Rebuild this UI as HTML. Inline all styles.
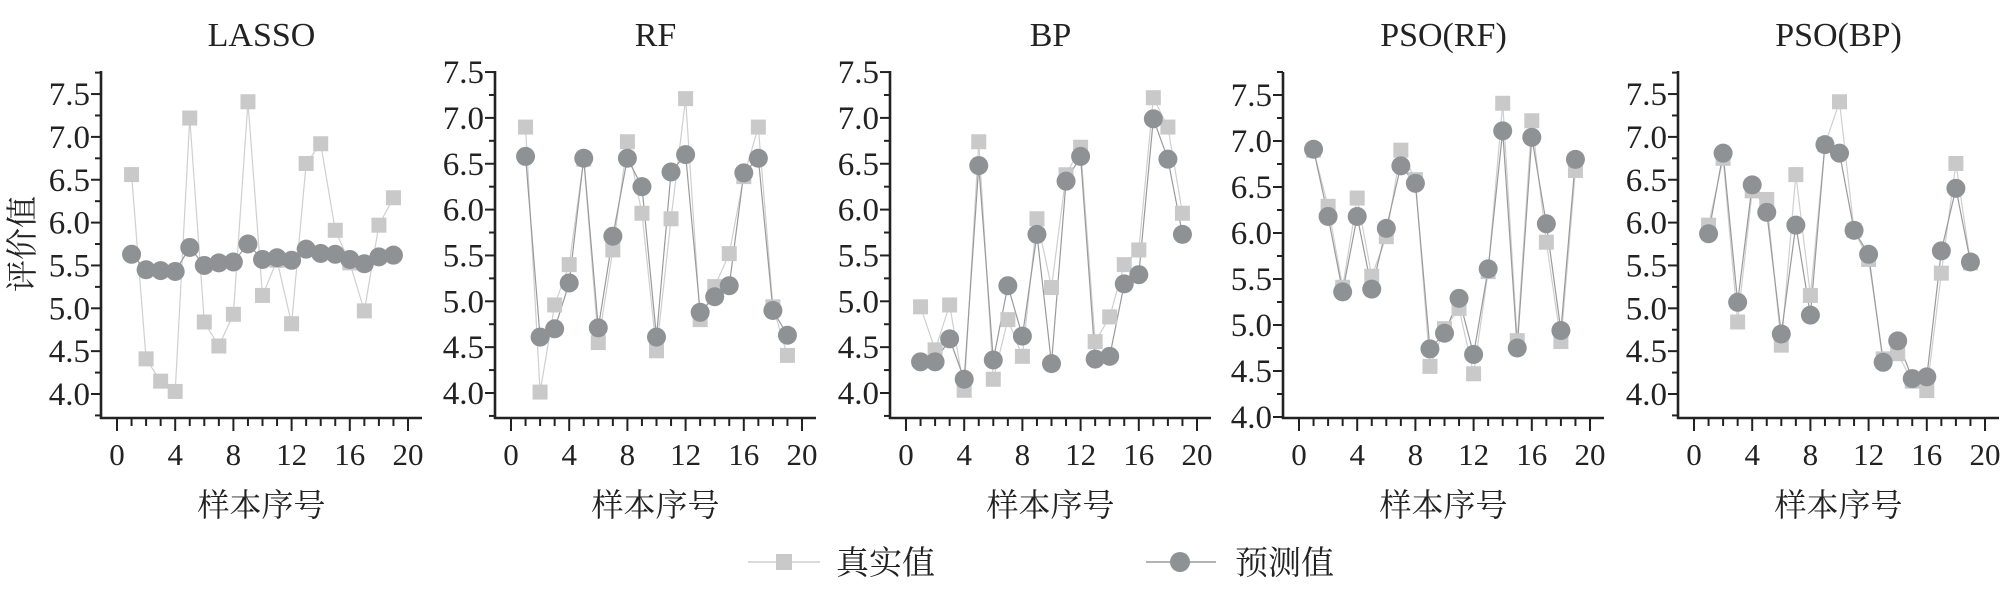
<!DOCTYPE html>
<html><head><meta charset="utf-8"><style>
html,body{margin:0;padding:0;background:#fff;}
svg{display:block;}
text{font-family:"Liberation Serif","Noto Serif CJK SC",serif;fill:#222;}
.cn{font-family:"Liberation Serif","Noto Serif CJK SC","Noto Sans CJK SC",serif;}
</style></head><body>
<svg id="s" width="2008" height="591" viewBox="0 0 2008 591" xmlns="http://www.w3.org/2000/svg"></svg>
<script>
var P=[
 {t:"LASSO",ax:101,y4:394,k:85.7,top:71,
  tr:[6.56,4.41,4.15,4.03,7.22,4.84,4.56,4.93,7.41,5.15,5.56,4.82,6.69,6.92,5.91,5.53,4.97,5.97,6.29],
  pr:[5.63,5.45,5.44,5.43,5.71,5.50,5.53,5.54,5.75,5.57,5.59,5.56,5.69,5.64,5.63,5.57,5.52,5.60,5.62]},
 {t:"RF",ax:495,y4:393,k:91.7,top:71,
  tr:[6.90,4.01,4.96,5.40,6.55,4.55,5.56,6.74,5.96,4.46,5.90,7.21,4.80,5.16,5.52,6.36,6.90,4.94,4.41],
  pr:[6.58,4.61,4.70,5.20,6.56,4.71,5.71,6.56,6.25,4.61,6.41,6.60,4.88,5.05,5.17,6.40,6.56,4.90,4.63]},
 {t:"BP",ax:890,y4:393,k:91.7,top:71,
  tr:[4.94,4.47,4.96,4.03,6.74,4.15,4.80,4.40,5.90,5.15,6.38,6.68,4.56,4.83,5.40,5.56,7.22,6.90,5.96],
  pr:[4.34,4.34,4.59,4.15,6.48,4.36,5.17,4.62,5.73,4.32,6.31,6.58,4.37,4.40,5.19,5.29,6.99,6.55,5.73]},
 {t:"PSO(RF)",ax:1283,y4:417,k:92,top:72,
  tr:[6.90,6.29,5.41,6.38,5.53,5.96,6.90,6.58,4.55,4.96,5.18,4.47,5.58,7.41,4.83,7.22,5.90,4.82,6.68],
  pr:[6.91,6.18,5.36,6.18,5.39,6.05,6.73,6.54,4.74,4.91,5.29,4.68,5.61,7.11,4.75,7.04,6.10,4.94,6.80]},
 {t:"PSO(BP)",ax:1678,y4:394,k:85.7,top:71,
  tr:[5.97,6.75,4.84,6.37,6.27,4.57,6.56,5.15,6.91,7.41,5.91,5.57,4.41,4.47,4.15,4.04,5.41,6.69,5.53],
  pr:[5.87,6.81,5.07,6.44,6.12,4.70,5.97,4.92,6.91,6.81,5.91,5.63,4.37,4.62,4.18,4.20,5.67,6.40,5.54]}
];
var h='';var XA=418;
var SQ='#c9c9c9',CI='#8f9294';
P.forEach(function(p){
 var ax=p.ax;
 function X(i){return ax+16+i*14.55;}
 function Y(v){return p.y4-(v-4)*p.k;}
 var cx=(ax+ax+321)/2;
 h+='<text x="'+cx+'" y="46" font-size="34" text-anchor="middle">'+p.t+'</text>';
 h+='<line x1="'+ax+'" y1="'+p.top+'" x2="'+ax+'" y2="'+(XA+1)+'" stroke="#222" stroke-width="2.6"/>';
 h+='<line x1="'+(ax-1)+'" y1="'+XA+'" x2="'+(ax+321)+'" y2="'+XA+'" stroke="#222" stroke-width="2.6"/>';
 for(var v=3.75;v<=7.76;v+=0.25){
   var y=Y(v); if(y<p.top-1||y>XA+2)continue;
   var maj=Math.abs(v*2-Math.round(v*2))<0.01;
   h+='<line x1="'+(ax-(maj?10:6))+'" y1="'+y+'" x2="'+ax+'" y2="'+y+'" stroke="#222" stroke-width="2"/>';
   if(maj&&v>=3.99) h+='<text x="'+(ax-11)+'" y="'+(y+11)+'" font-size="33" text-anchor="end">'+v.toFixed(1)+'</text>';
 }
 for(var i=0;i<=20;i++){
   var x=X(i);var maj=i%4==0;
   h+='<line x1="'+x+'" y1="'+XA+'" x2="'+x+'" y2="'+(XA+(maj?13:8))+'" stroke="#222" stroke-width="2"/>';
   if(maj) h+='<text x="'+x+'" y="'+(XA+47)+'" font-size="31" text-anchor="middle">'+i+'</text>';
 }
 h+='<text class="cn" x="'+cx+'" y="516" font-size="32" text-anchor="middle">样本序号</text>';
 var a='',b='';
 for(var i=0;i<19;i++){a+=(i?'L':'M')+X(i+1)+' '+Y(p.tr[i]);b+=(i?'L':'M')+X(i+1)+' '+Y(p.pr[i]);}
 h+='<path d="'+a+'" fill="none" stroke="#cfcfcf" stroke-width="1.2"/>';
 h+='<path d="'+b+'" fill="none" stroke="#9a9a9a" stroke-width="1.2"/>';
 for(var i=0;i<19;i++){h+='<rect x="'+(X(i+1)-7.5)+'" y="'+(Y(p.tr[i])-7.5)+'" width="15" height="15" fill="'+SQ+'"/>';}
 for(var i=0;i<19;i++){h+='<circle cx="'+X(i+1)+'" cy="'+Y(p.pr[i])+'" r="9.5" fill="'+CI+'"/>';}
});
h+='<text class="cn" transform="translate(33,244) rotate(-90)" font-size="32" text-anchor="middle">评价值</text>';
h+='<line x1="748" y1="562" x2="820" y2="562" stroke="#cfcfcf" stroke-width="1.5"/>';
h+='<rect x="776" y="554" width="16" height="16" fill="'+SQ+'"/>';
h+='<text class="cn" x="836" y="574" font-size="33">真实值</text>';
h+='<line x1="1146" y1="562" x2="1216" y2="562" stroke="#9a9a9a" stroke-width="1.5"/>';
h+='<circle cx="1180" cy="562" r="10" fill="'+CI+'"/>';
h+='<text class="cn" x="1235" y="574" font-size="33">预测值</text>';
document.getElementById('s').innerHTML=h;
</script>
</body></html>
